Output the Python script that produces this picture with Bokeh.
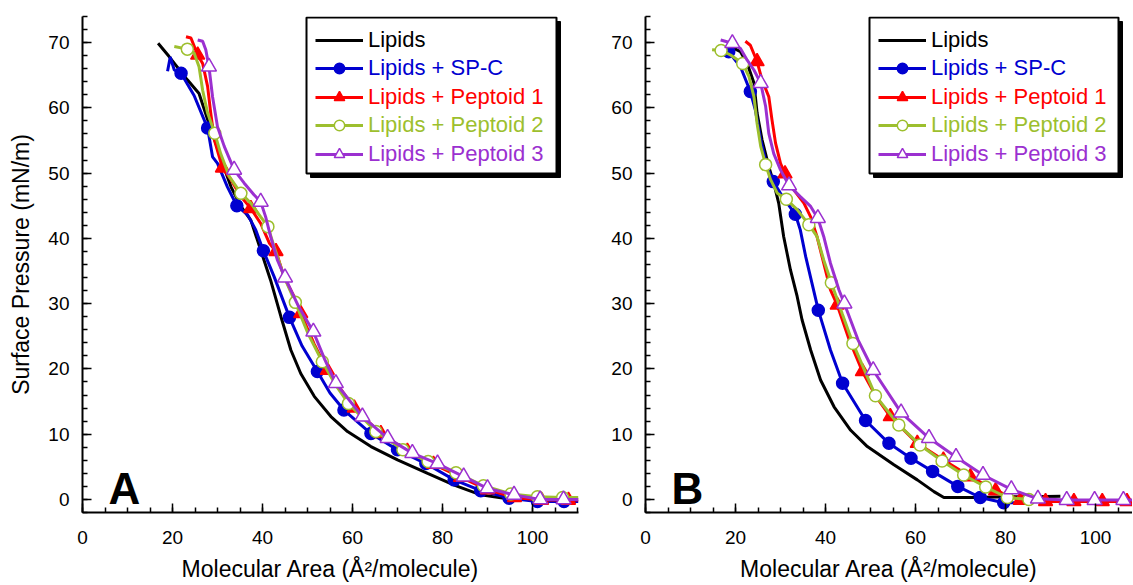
from bokeh.plotting import figure
from bokeh.models import (Range1d, SingleIntervalTicker, Legend, LegendItem,
                          BoxAnnotation, Label)
from bokeh.layouts import row
from bokeh.embed import file_html
from bokeh.resources import INLINE

FONT = "Liberation Sans"

# ---------------- data: panel A ----------------
A_lip_x = [16.8, 19.2, 23.3, 25.9, 27.8, 29.6, 31.1, 33.0, 35.2, 37.4, 39.6, 41.8, 44.1, 46.3, 48.5,
           51.5, 55.2, 58.9, 64.1, 70.0, 76.7, 82.6, 88.5, 93.7, 96.0]
A_lip_y = [69.9, 67.9, 64.3, 62.2, 58.2, 54.6, 51.5, 47.9, 44.9, 42.8, 38.2, 33.6, 28.0, 22.9, 19.3,
           15.8, 12.7, 10.4, 8.1, 6.05, 4.0, 2.2, 0.7, 0.2, 0.0]

A_spc_x = [18.9, 19.5, 20.4, 21.9, 24.8, 27.8, 28.9, 30.0, 32.2, 34.3, 36.7, 38.5, 40.2, 42.6, 46.0,
           48.8, 52.2, 55.0, 58.1, 64.1, 70.0, 76.3, 82.6, 88.5, 94.8, 101.1, 107.0, 110.2]
A_spc_y = [65.6, 67.8, 65.8, 65.3, 61.9, 56.9, 52.5, 51.5, 47.9, 45.0, 43.6, 41.3, 38.1, 34.1, 27.9,
           23.5, 19.6, 16.3, 13.7, 10.1, 7.6, 5.5, 3.0, 1.35, 0.2, -0.3, -0.3, -0.3]
A_spc_mx = [21.9, 27.8, 34.3, 40.2, 46.0, 52.2, 58.1, 64.1, 70.0, 76.3, 82.6, 88.5, 94.8, 101.1, 107.0]
A_spc_my = [65.3, 56.9, 45.0, 38.1, 27.9, 19.6, 13.7, 10.1, 7.6, 5.5, 3.0, 1.35, 0.2, -0.3, -0.3]

A_p1_x = [23.0, 24.1, 25.6, 26.7, 27.8, 28.5, 29.3, 31.1, 33.0, 35.2, 37.4, 39.6, 41.5, 43.0, 44.8,
          47.0, 48.5, 51.5, 54.4, 60.4, 66.3, 72.2, 78.0, 84.0, 90.0, 96.0, 102.0, 108.0, 110.2]
A_p1_y = [70.9, 70.7, 68.1, 66.8, 63.3, 59.2, 55.1, 50.8, 49.0, 46.4, 44.6, 42.3, 39.3, 38.0, 34.1,
          31.1, 28.5, 23.8, 19.8, 14.0, 10.1, 7.4, 5.4, 3.4, 1.5, 0.3, -0.1, -0.1, -0.1]
A_p1_mx = [25.6, 31.1, 37.4, 43.0, 48.5, 54.4, 60.4, 66.3, 72.2, 78.0, 84.0, 90.0, 96.0, 102.0, 108.0]
A_p1_my = [68.1, 50.8, 44.6, 38.0, 28.5, 19.8, 14.0, 10.1, 7.4, 5.4, 3.4, 1.5, 0.3, -0.1, -0.1]

A_p2_x = [20.4, 23.3, 24.8, 25.9, 26.7, 27.8, 29.4, 30.7, 32.6, 35.2, 37.4, 39.6, 41.2, 42.6, 44.8,
          47.3, 50.2, 53.3, 56.2, 59.1, 65.2, 71.2, 76.8, 83.0, 89.1, 95.2, 101.1, 106.7, 110.2]
A_p2_y = [69.4, 69.0, 68.4, 66.3, 62.7, 59.2, 56.1, 53.0, 49.5, 46.9, 45.4, 43.3, 41.8, 38.7, 34.1,
          30.2, 25.3, 21.1, 17.6, 14.7, 10.4, 7.6, 5.8, 4.1, 2.1, 0.85, 0.4, 0.3, 0.3]
A_p2_mx = [23.3, 29.4, 35.2, 41.2, 47.3, 53.3, 59.1, 65.2, 71.2, 76.8, 83.0, 89.1, 95.2, 101.1, 106.7]
A_p2_my = [69.0, 56.1, 46.9, 41.8, 30.2, 21.1, 14.7, 10.4, 7.6, 5.8, 4.1, 2.1, 0.85, 0.4, 0.3]

A_p3_x = [25.6, 26.7, 27.4, 28.1, 28.9, 30.0, 31.5, 33.7, 35.9, 38.1, 39.6, 40.7, 41.8, 43.3, 45.0,
          48.0, 51.3, 53.8, 56.3, 62.2, 67.8, 73.3, 78.9, 84.7, 90.0, 95.9, 101.7, 106.9, 110.2]
A_p3_y = [70.4, 70.2, 68.9, 66.3, 61.7, 57.1, 54.1, 50.5, 48.5, 46.7, 45.6, 43.3, 40.3, 36.7, 34.0,
          29.6, 25.7, 21.5, 17.8, 12.7, 9.4, 7.1, 5.5, 3.5, 1.7, 0.7, 0.0, 0.0, 0.0]
A_p3_mx = [28.1, 33.7, 39.6, 45.0, 51.3, 56.3, 62.2, 67.8, 73.3, 78.9, 84.7, 90.0, 95.9, 101.7, 106.9]
A_p3_my = [66.3, 50.5, 45.6, 34.0, 25.7, 17.8, 12.7, 9.4, 7.1, 5.5, 3.5, 1.7, 0.7, 0.0, 0.0]

# ---------------- data: panel B ----------------
B_lip_x = [18.2, 20.0, 21.1, 22.6, 24.1, 24.8, 25.9, 27.4, 28.5, 29.6, 30.7, 32.2, 33.7, 34.8, 36.7,
           38.9, 41.9, 45.6, 49.3, 55.2, 60.4, 64.1, 66.3, 73.0, 80.4, 86.0, 92.2]
B_lip_y = [69.3, 69.0, 68.6, 66.8, 63.8, 59.2, 55.1, 51.0, 48.5, 45.4, 40.3, 35.2, 31.1, 27.5, 22.9,
           18.3, 14.2, 10.6, 8.1, 5.3, 3.0, 1.2, 0.3, 0.3, 0.4, 0.4, 0.5]

B_spc_x = [18.0, 18.5, 21.1, 23.3, 24.4, 25.6, 27.0, 28.4, 30.0, 31.5, 33.3, 34.4, 35.6, 37.0, 38.4,
           41.1, 43.8, 48.9, 54.1, 59.0, 63.8, 69.4, 74.4, 79.6, 82.0]
B_spc_y = [69.2, 68.6, 66.3, 62.5, 59.7, 55.1, 51.0, 48.7, 46.9, 45.4, 43.7, 41.3, 37.2, 33.1, 29.0,
           22.9, 17.8, 12.1, 8.6, 6.3, 4.3, 2.0, 0.3, -0.5, -0.5]
B_spc_mx = [18.5, 23.3, 28.4, 33.3, 38.4, 43.8, 48.9, 54.1, 59.0, 63.8, 69.4, 74.4, 79.6]
B_spc_my = [68.6, 62.5, 48.7, 43.7, 29.0, 17.8, 12.1, 8.6, 6.3, 4.3, 2.0, 0.3, -0.5]

B_p1_x = [22.2, 23.3, 24.8, 25.9, 27.4, 28.1, 28.9, 30.0, 31.0, 33.0, 35.2, 36.7, 38.1, 39.6, 41.1,
          42.6, 45.3, 48.2, 51.2, 54.4, 60.4, 66.2, 72.2, 77.8, 83.3, 88.9, 95.2, 101.5, 107.0, 108.4]
B_p1_y = [70.2, 69.6, 67.1, 64.3, 61.7, 58.2, 54.6, 51.5, 49.9, 47.4, 45.4, 43.3, 40.3, 36.2, 32.1,
          29.8, 24.4, 19.6, 15.8, 12.7, 8.6, 6.05, 3.5, 1.35, -0.1, -0.3, -0.3, -0.3, -0.3, -0.3]
B_p1_mx = [24.8, 31.0, 42.6, 48.2, 54.4, 60.4, 66.2, 72.2, 77.8, 83.3, 88.9, 95.2, 101.5, 107.0]
B_p1_my = [67.1, 49.9, 29.8, 19.6, 12.7, 8.6, 6.05, 3.5, 1.35, -0.1, -0.3, -0.3, -0.3, -0.3]

B_p2_x = [14.8, 16.8, 18.9, 21.6, 23.0, 24.1, 24.8, 25.6, 26.7, 27.8, 29.3, 31.3, 33.7, 36.3, 38.1,
          39.6, 41.3, 43.7, 46.1, 51.1, 56.3, 61.0, 65.9, 70.7, 75.6, 80.4, 85.2]
B_p2_y = [68.9, 68.8, 68.1, 66.8, 64.8, 61.7, 57.6, 54.1, 51.3, 49.0, 46.9, 46.0, 44.4, 42.1, 40.3,
          36.7, 33.2, 28.5, 23.9, 15.9, 11.4, 8.35, 5.9, 3.75, 1.9, 0.3, 0.0]
B_p2_mx = [16.8, 21.6, 26.7, 31.3, 36.3, 41.3, 46.1, 51.1, 56.3, 61.0, 65.9, 70.7, 75.6, 80.4, 85.2]
B_p2_my = [68.8, 66.8, 51.3, 46.0, 42.1, 33.2, 23.9, 15.9, 11.4, 8.35, 5.9, 3.75, 1.9, 0.3, 0.0]

B_p3_x = [16.7, 19.3, 21.1, 22.6, 24.1, 25.6, 26.7, 27.4, 28.5, 30.0, 31.9, 34.4, 36.7, 38.3, 39.6,
          41.1, 43.0, 44.2, 47.2, 50.6, 56.8, 63.0, 69.0, 75.0, 81.3, 87.2, 93.6, 99.8, 106.2, 108.4]
B_p3_y = [70.4, 69.9, 69.1, 67.3, 65.8, 63.8, 60.2, 56.1, 53.0, 50.5, 48.1, 46.4, 44.9, 43.1, 40.3,
          36.2, 32.1, 30.0, 24.5, 19.8, 13.3, 9.4, 6.5, 3.75, 1.55, 0.1, -0.1, -0.1, -0.1, -0.1]
B_p3_mx = [19.3, 25.6, 31.9, 38.3, 44.2, 50.6, 56.8, 63.0, 69.0, 75.0, 81.3, 87.2, 93.6, 99.8, 106.2]
B_p3_my = [69.9, 63.8, 48.1, 43.1, 30.0, 19.8, 13.3, 9.4, 6.5, 3.75, 1.55, 0.1, -0.1, -0.1, -0.1]

labels = ["Lipids", "Lipids + SP-C", "Lipids + Peptoid 1", "Lipids + Peptoid 2", "Lipids + Peptoid 3"]
colors = ["#000000", "#0000d0", "#ff0000", "#9dbf2e", "#9b30d0"]
markers = [None, "circle", "triangle", "circle", "triangle"]
mfill = [None, "#0000d0", "#ff0000", "#ffffff", "#ffffff"]
msize = [0, 12, 14, 12, 15]

x_label = "Molecular Area (Å²/molecule)"
y_label = "Surface Pressure (mN/m)"

FRAME_H = 496
HEIGHT = 584
TOP = 16


def make_panel(series, xmax, width, bl, br, letter, ylab, box):
    p = figure(width=width, height=HEIGHT, output_backend="svg", toolbar_location=None,
               x_range=Range1d(0, xmax), y_range=Range1d(-2, 74),
               min_border_left=bl, min_border_right=br, min_border_top=TOP,
               min_border_bottom=HEIGHT - TOP - FRAME_H)
    p.grid.visible = False
    p.outline_line_color = None
    p.background_fill_color = "white"
    p.xaxis.ticker = SingleIntervalTicker(interval=20, num_minor_ticks=4)
    p.yaxis.ticker = SingleIntervalTicker(interval=10, num_minor_ticks=5)
    for ax in (p.xaxis[0], p.yaxis[0]):
        ax.axis_line_width = 2
        ax.axis_line_color = "black"
        ax.major_tick_in = 9
        ax.major_tick_out = 0
        ax.minor_tick_in = 5
        ax.minor_tick_out = 0
        ax.major_tick_line_width = 1.5
        ax.minor_tick_line_width = 1.5
        ax.major_tick_line_color = "black"
        ax.minor_tick_line_color = "black"
        ax.major_label_text_font = FONT
        ax.major_label_text_font_size = "19px"
        ax.major_label_text_color = "black"
        ax.axis_label_text_font = FONT
        ax.axis_label_text_font_size = "23px"
        ax.axis_label_text_font_style = "normal"
        ax.axis_label_text_color = "black"
    p.xaxis.axis_label = x_label
    p.xaxis.major_label_standoff = 18
    p.xaxis.axis_label_standoff = 9
    p.yaxis.major_label_standoff = 13
    if ylab:
        p.yaxis.axis_label = y_label
        p.yaxis.axis_label_standoff = 11

    # legend box with shadow (screen units from frame bottom-left)
    left, right, top, bottom = box
    p.add_layout(BoxAnnotation(left=left + 4, right=right + 4, top=top - 4, bottom=bottom - 4,
                               left_units="screen", right_units="screen",
                               top_units="screen", bottom_units="screen",
                               fill_color="black", fill_alpha=1, line_color="black", line_alpha=1))
    p.add_layout(BoxAnnotation(left=left, right=right, top=top, bottom=bottom,
                               left_units="screen", right_units="screen",
                               top_units="screen", bottom_units="screen",
                               fill_color="white", fill_alpha=1, line_color="black",
                               line_width=2, line_alpha=1))

    for i, (lx, ly, mx, my) in enumerate(series):
        rs = [p.line(lx, ly, line_color=colors[i], line_width=3)]
        if markers[i]:
            rs.append(p.scatter(mx, my, marker=markers[i], size=msize[i],
                                fill_color=mfill[i], line_color=colors[i], line_width=1.5))
        center = top - 22.6 - 28.6 * i
        leg = Legend(items=[LegendItem(label=labels[i], renderers=rs)],
                     location=(left + 9, center - 13), padding=0, margin=0, spacing=0,
                     border_line_color=None, background_fill_alpha=0,
                     glyph_width=48, glyph_height=26, label_standoff=5,
                     label_text_font=FONT, label_text_font_size="22px",
                     label_text_color=colors[i], label_height=26)
        p.add_layout(leg, "center")

    p.add_layout(Label(x=5.8, y=5.4, text=letter, text_font=FONT, text_font_size="44px",
                       text_font_style="bold", text_color="black", text_baseline="top"))
    return p


seriesA = [(A_lip_x, A_lip_y, None, None),
           (A_spc_x, A_spc_y, A_spc_mx, A_spc_my),
           (A_p1_x, A_p1_y, A_p1_mx, A_p1_my),
           (A_p2_x, A_p2_y, A_p2_mx, A_p2_my),
           (A_p3_x, A_p3_y, A_p3_mx, A_p3_my)]
seriesB = [(B_lip_x, B_lip_y, None, None),
           (B_spc_x, B_spc_y, B_spc_mx, B_spc_my),
           (B_p1_x, B_p1_y, B_p1_mx, B_p1_my),
           (B_p2_x, B_p2_y, B_p2_mx, B_p2_my),
           (B_p3_x, B_p3_y, B_p3_mx, B_p3_my)]

# panel A: frame 82..578 ; panel B: frame 645..1132
pA = make_panel(seriesA, 496 / 4.5, 598, 82, 20, "A", True, (224, 474, 495, 339))
pB = make_panel(seriesB, 487 / 4.5, 534, 47, 0, "B", False, (224, 473, 495, 339))

layout = row(pA, pB)
open("out.html", "w").write(file_html(layout, INLINE))
